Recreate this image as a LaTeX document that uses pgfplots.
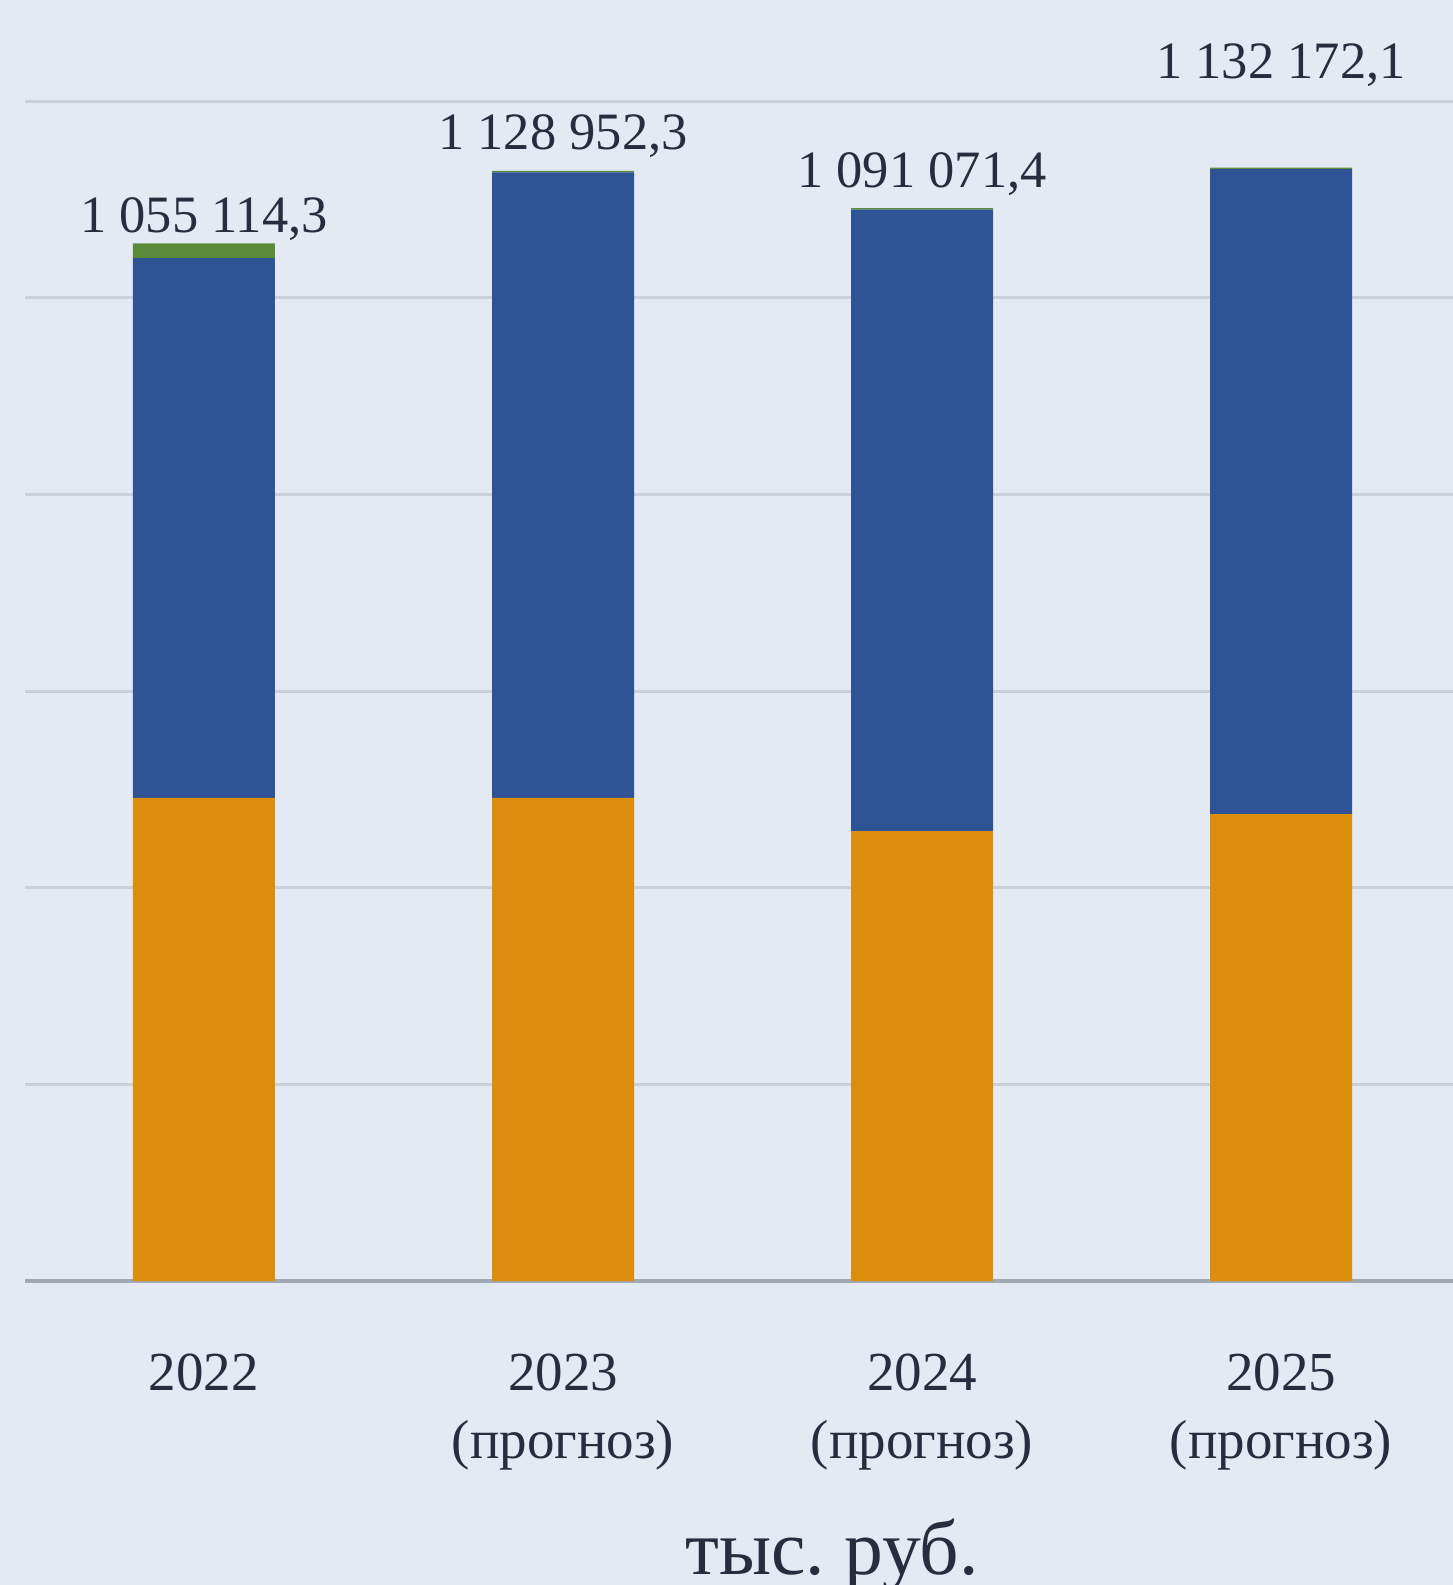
\documentclass[border=0pt]{standalone}
\usepackage{fontspec}
\setmainfont{Liberation Serif}
\usepackage{pgfplots}
\pgfplotsset{compat=1.18}
\frenchspacing

\definecolor{fon}{HTML}{E4EAF3}
\definecolor{oranzh}{HTML}{DB8E0E}
\definecolor{sin}{HTML}{2E5496}
\definecolor{zel}{HTML}{5A8A3A}
\definecolor{setka}{HTML}{CBD1D9}
\definecolor{os}{HTML}{A0A8B2}
\definecolor{tekst}{HTML}{252E3E}

\begin{document}
\begin{tikzpicture}
\fill[fon] (0,0) rectangle (290.6pt,317pt);
\useasboundingbox (0,0) rectangle (290.6pt,317pt);
\begin{axis}[
    at={(5pt,60.8pt)}, anchor=south west,
    scale only axis, width=285.6pt, height=236pt,
    xmin=-0.4986, xmax=3.479, ymin=0, ymax=1200000,
    ybar stacked, bar width=28.4pt,
    axis line style={draw=none}, tick style={draw=none},
    ytick={200000,400000,600000,800000,1000000,1200000}, yticklabels={},
    scaled y ticks=false,
    ymajorgrids, grid style={setka, line width=0.6pt},
    extra y ticks={0}, extra y tick labels={},
    extra y tick style={grid style={os, line width=0.8pt}},
    xtick={0,1,2,3},
    xticklabels={2022, 2023\\(прогноз), 2024\\(прогноз), 2025\\(прогноз)},
    xticklabel style={align=center, anchor=north, inner sep=0pt, yshift=-14.4pt,
        font=\fontsize{11}{13.6}\selectfont, text=tekst},
    /pgf/number format/assume math mode=true,
    clip=false,
]
% оранжевая часть
\addplot[fill=oranzh, draw=none] coordinates {(0,491200) (1,491200) (2,457600) (3,474900)};
% синяя часть
\addplot[fill=sin, draw=none] coordinates {(0,548914.3) (1,636252.3) (2,631971.4) (3,655772.1)};
% зелёная часть
\addplot[fill=zel, draw=none] coordinates {(0,15000) (1,1500) (2,1500) (3,1500)};

\tikzset{lbl/.style={anchor=base, text=tekst, font=\fontsize{10.5}{12}\selectfont}}
\node[lbl] at (axis cs:0,1055114.3) [yshift=2.1pt] {1 055 114,3};
\node[lbl] at (axis cs:1,1128952.3) [yshift=4.2pt] {1 128 952,3};
\node[lbl] at (axis cs:2,1091071.4) [yshift=4.2pt] {1 091 071,4};
\node[lbl] at (axis cs:3,1132172.1) [yshift=17.9pt] {1 132 172,1};
\end{axis}
\node[anchor=base, text=tekst, font=\fontsize{15.5}{18}\selectfont] at (166.4pt,2pt) {тыс. руб.};
\end{tikzpicture}
\end{document}
